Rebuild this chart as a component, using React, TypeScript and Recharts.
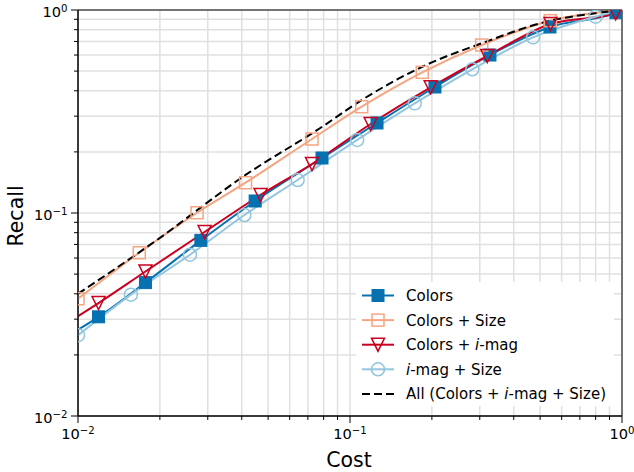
import React from "react";
import { LineChart, Line, XAxis, YAxis, CartesianGrid, ReferenceArea } from "recharts";

const FONT = "DejaVu Sans";

// axis ticks (log decades + minor ticks)
const logTicks = [
  0.01, 0.02, 0.03, 0.04, 0.05, 0.06, 0.07, 0.08, 0.09,
  0.1, 0.2, 0.3, 0.4, 0.5, 0.6, 0.7, 0.8, 0.9, 1,
];
const majorTicks = [0.01, 0.1, 1];
const majorExponents = ["\u22122", "\u22121", "0"];

// Colors
const colorsCost = [0.01, 0.0119, 0.0177, 0.0283, 0.0448, 0.0789, 0.1257, 0.2053, 0.327, 0.5436, 0.95, 1];
const colorsRecall = [0.0266, 0.0308, 0.0454, 0.0733, 0.1146, 0.1866, 0.2776, 0.4176, 0.6, 0.8245, 0.97, 1];
const colorsMarked = [false, true, true, true, true, true, true, true, true, true, true, false];

// Colors + Size
const sizeCost = [0.01, 0.0168, 0.0274, 0.0413, 0.0725, 0.1104, 0.1844, 0.305, 0.545, 1];
const sizeRecall = [0.0378, 0.0637, 0.1003, 0.141, 0.2315, 0.334, 0.493, 0.672, 0.886, 1];
const sizeMarked = [true, true, true, true, true, true, true, true, true, false];

// Colors + i-mag
const imagCost = [0.01, 0.0119, 0.0177, 0.0292, 0.0469, 0.0725, 0.1191, 0.198, 0.3197, 0.546, 0.948, 1];
const imagRecall = [0.031, 0.036, 0.0515, 0.0806, 0.1227, 0.1743, 0.2745, 0.416, 0.5935, 0.853, 0.963, 1];
const imagMarked = [false, true, true, true, true, true, true, true, true, true, true, false];

// i-mag + Size
const magSizeCost = [0.01, 0.01565, 0.0258, 0.0409, 0.0642, 0.1063, 0.173, 0.2816, 0.471, 0.8, 1];
const magSizeRecall = [0.025, 0.0396, 0.0623, 0.0977, 0.1454, 0.229, 0.347, 0.5104, 0.7336, 0.927, 1];
const magSizeMarked = [true, true, true, true, true, true, true, true, true, true, false];

// All (Colors + i-mag + Size)
const allCost = [0.01, 0.0195, 0.0413, 0.0775, 0.1104, 0.1844, 0.305, 0.545, 0.83, 1];
const allRecall = [0.04, 0.0736, 0.154, 0.2614, 0.36, 0.5255, 0.6855, 0.886, 0.97, 1];

const toRows = (cost: number[], recall: number[], marked?: boolean[]) =>
  cost.map((x, i) => ({ x, y: recall[i], m: marked ? marked[i] : false }));

type Marker = "squareFilled" | "square" | "triangle" | "circle" | "none";

function markerShape(kind: Marker, cx: number, cy: number, color: string, key?: string) {
  if (kind === "squareFilled")
    return <rect key={key} x={cx - 6} y={cy - 6} width={12} height={12} fill={color} stroke={color} strokeWidth={1} />;
  if (kind === "square")
    return <rect key={key} x={cx - 6} y={cy - 6} width={12} height={12} fill="none" stroke={color} strokeWidth={1.5} />;
  if (kind === "triangle")
    return (
      <polygon
        key={key}
        points={`${cx - 6.5},${cy - 6.5} ${cx + 6.5},${cy - 6.5} ${cx},${cy + 6.5}`}
        fill="none"
        stroke={color}
        strokeWidth={1.5}
      />
    );
  if (kind === "circle")
    return <circle key={key} cx={cx} cy={cy} r={6.5} fill="none" stroke={color} strokeWidth={1.5} />;
  return <g key={key} />;
}

const makeDot = (kind: Marker, color: string) => (props: any) => {
  const { cx, cy, payload, index } = props;
  if (!payload?.m || cx == null || cy == null) return <g key={`d-${index}`} />;
  return markerShape(kind, cx, cy, color, `d-${index}`);
};

const series = [
  { name: "Colors", data: toRows(colorsCost, colorsRecall, colorsMarked), color: "#0571b0", marker: "squareFilled" as Marker, dash: undefined },
  { name: "Colors + Size", data: toRows(sizeCost, sizeRecall, sizeMarked), color: "#f4a582", marker: "square" as Marker, dash: undefined },
  { name: "Colors + i-mag", data: toRows(imagCost, imagRecall, imagMarked), color: "#ca0020", marker: "triangle" as Marker, dash: undefined },
  { name: "i-mag + Size", data: toRows(magSizeCost, magSizeRecall, magSizeMarked), color: "#92c5de", marker: "circle" as Marker, dash: undefined },
  { name: "All (Colors + i-mag + Size)", data: toRows(allCost, allRecall), color: "#000000", marker: "none" as Marker, dash: "8 4" },
];

function XTick({ x, y, payload }: any) {
  const i = majorTicks.indexOf(payload.value);
  const major = i >= 0;
  return (
    <g>
      <line x1={x} x2={x} y1={y} y2={y + (major ? 7 : 4)} stroke="#000" strokeWidth={1} />
      {major && (
        <text x={x} y={y + 23} textAnchor="middle" fontFamily={FONT} fontSize={14.6} fill="#000">
          10
          <tspan dy={-5} fontSize={10.2}>{majorExponents[i]}</tspan>
        </text>
      )}
    </g>
  );
}

function YTick({ x, y, payload }: any) {
  const i = majorTicks.indexOf(payload.value);
  const major = i >= 0;
  return (
    <g>
      <line x1={x - (major ? 7 : 4)} x2={x} y1={y} y2={y} stroke="#000" strokeWidth={1} />
      {major && (
        <text x={x - 10.5} y={y + 7} textAnchor="end" fontFamily={FONT} fontSize={14.6} fill="#000">
          10
          <tspan dy={-5} fontSize={10.2}>{majorExponents[i]}</tspan>
        </text>
      )}
    </g>
  );
}

// renders "i-mag" pieces with the i in italics
function LegendLabel({ text }: { text: string }) {
  const parts = text.split("i-mag");
  return (
    <>
      {parts.map((p, k) => (
        <React.Fragment key={k}>
          {p}
          {k < parts.length - 1 && (
            <>
              <tspan fontStyle="italic">i</tspan>-mag
            </>
          )}
        </React.Fragment>
      ))}
    </>
  );
}

function Overlay() {
  return (
    <svg width={634} height={472} style={{ position: "absolute", left: 0, top: 0, pointerEvents: "none" }}>
      <text x={349} y={467} textAnchor="middle" fontFamily={FONT} fontSize={20.5} fill="#000">
        Cost
      </text>
      <text transform="translate(23,216) rotate(-90)" textAnchor="middle" fontFamily={FONT} fontSize={20.5} fill="#000">
        Recall
      </text>
      <rect x={356} y={282} width={258} height={124} rx={3} fill="#fff" />
      {series.map((s, i) => {
        const cy = 295.5 + i * 24.6;
        return (
          <g key={s.name}>
            <line x1={362} x2={394} y1={cy} y2={cy} stroke={s.color} strokeWidth={2} strokeDasharray={s.dash} />
            {markerShape(s.marker, 378, cy, s.color)}
            <text x={406} y={cy + 5.5} fontFamily={FONT} fontSize={15} fill="#000">
              <LegendLabel text={s.name} />
            </text>
          </g>
        );
      })}
    </svg>
  );
}

export default function App() {
  return (
    <div style={{ position: "fixed", left: 0, top: 0, width: 634, height: 472, background: "#fff", fontFamily: FONT }}>
      <LineChart width={634} height={472} margin={{ top: 10, right: 12, bottom: 0, left: 0 }}>
        <CartesianGrid stroke="#e0e0e0" strokeWidth={1.5} />
        <XAxis
          dataKey="x"
          type="number"
          scale="log"
          domain={[0.01, 1]}
          allowDataOverflow
          ticks={logTicks}
          interval={0}
          height={56}
          tickSize={0}
          tickMargin={0}
          tickLine={false}
          axisLine={{ stroke: "#000", strokeWidth: 1 }}
          tick={<XTick />}
        />
        <YAxis
          dataKey="y"
          type="number"
          scale="log"
          domain={[0.01, 1]}
          allowDataOverflow
          ticks={logTicks}
          interval={0}
          width={78}
          tickSize={0}
          tickMargin={0}
          tickLine={false}
          axisLine={{ stroke: "#000", strokeWidth: 1 }}
          tick={<YTick />}
        />
        {series.map((s) => (
          <Line
            key={s.name}
            data={s.data}
            dataKey="y"
            name={s.name}
            type="monotone"
            stroke={s.color}
            strokeWidth={2}
            strokeDasharray={s.dash}
            dot={makeDot(s.marker, s.color)}
            activeDot={false}
            isAnimationActive={false}
          />
        ))}
        <ReferenceArea x1={0.01} x2={1} y1={0.01} y2={1} fill="none" fillOpacity={0} stroke="#000" strokeWidth={1} />
      </LineChart>
      <Overlay />
    </div>
  );
}
